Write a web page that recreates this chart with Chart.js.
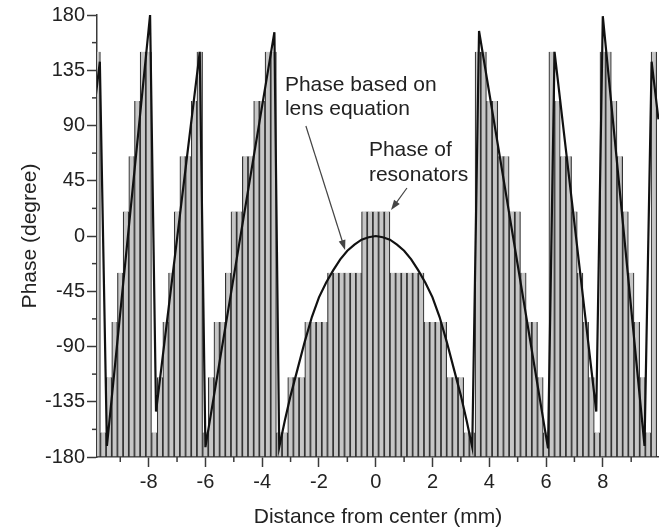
<!DOCTYPE html>
<html>
<head>
<meta charset="utf-8">
<script src="https://cdn.jsdelivr.net/npm/chart.js@4.4.0/dist/chart.umd.min.js"></script>
<style>
body { margin: 0; background: #fff; }
#phase-chart { display: block; }
</style>
</head>
<body>
<canvas id="phase-chart" width="659" height="530"></canvas>
<script>
// resonator positions (mm) and their phase (degree)
const barX = [
    -9.8, -9.6, -9.4, -9.2, -9.0, -8.8, -8.6, -8.4, -8.2, -8.0,
    -7.8, -7.6, -7.4, -7.2, -7.0, -6.8, -6.6, -6.4, -6.2, -6.0,
    -5.8, -5.6, -5.4, -5.2, -5.0, -4.8, -4.6, -4.4, -4.2, -4.0,
    -3.8, -3.6, -3.4, -3.2, -3.0, -2.8, -2.6, -2.4, -2.2, -2.0,
    -1.8, -1.6, -1.4, -1.2, -1.0, -0.8, -0.6, -0.4, -0.2, 0,
    0.2, 0.4, 0.6, 0.8, 1.0, 1.2, 1.4, 1.6, 1.8, 2.0,
    2.2, 2.4, 2.6, 2.8, 3.0, 3.2, 3.4, 3.6, 3.8, 4.0,
    4.2, 4.4, 4.6, 4.8, 5.0, 5.2, 5.4, 5.6, 5.8, 6.0,
    6.2, 6.4, 6.6, 6.8, 7.0, 7.2, 7.4, 7.6, 7.8, 8.0,
    8.2, 8.4, 8.6, 8.8, 9.0, 9.2, 9.4, 9.6, 9.8
];
const barPhase = [
    150, -160, -115, -70, -30, 20, 65, 110, 150, 150,
    -160, -115, -70, -30, 20, 65, 65, 110, 150, -160,
    -115, -70, -70, -30, 20, 20, 65, 65, 110, 110,
    150, 150, -160, -160, -115, -115, -115, -70, -70, -70,
    -70, -30, -30, -30, -30, -30, -30, 20, 20, 20,
    20, 20, -30, -30, -30, -30, -30, -30, -70, -70,
    -70, -70, -115, -115, -115, -160, -160, 150, 150, 110,
    110, 65, 65, 20, 20, -30, -70, -70, -115, -160,
    150, 110, 65, 65, 20, -30, -70, -115, -160, 150,
    150, 110, 65, 20, -30, -70, -115, -160, 150
];

// phase from the lens equation (wrapped)
const curveX = [
    -9.96, -9.72, -9.47, -7.95, -7.74, -6.2, -6.0, -3.57, -3.4, -3.2,
    -3.0, -2.75, -2.5, -2.25, -2.0, -1.75, -1.5, -1.25, -1.0, -0.75,
    -0.5, -0.25, 0, 0.25, 0.5, 0.75, 1.0, 1.25, 1.5, 1.75,
    2.0, 2.25, 2.5, 2.75, 3.0, 3.2, 3.4, 3.64, 6.07, 6.3,
    7.77, 8.0, 9.47, 9.72, 9.96
];
const curvePhase = [
    95, 142, -171, 180, -143, 150, -172, 166, -172, -150,
    -130, -108, -86, -66, -50, -38, -28, -19, -12, -7,
    -3, -1, 0, -1, -3, -7, -12, -19, -28, -38,
    -50, -66, -86, -108, -130, -150, -172, 167, -173, 150,
    -143, 179, -171, 142, 95
];

const xMinorTicks = [-9, -7, -5, -3, -1, 1, 3, 5, 7, 9];
const yMinorTicks = [-157.5, -112.5, -67.5, -22.5, 22.5, 67.5, 112.5, 157.5];

const lensNote = ["Phase based on", "lens equation"];
const lensNoteAt = [-3.2, 118.3];
const lensArrow = [-2.46, 89.6, -1.08, -11.4];
const resNote = ["Phase of", "resonators"];
const resNoteAt = [-0.24, 65.2];
const resArrow = [1.10, 39.1, 0.54, 21.2];

const axisColor = "#3a3a3a";
const textColor = "#222";
const fontFamily = "'Liberation Sans', Arial, sans-serif";

const canvas = document.getElementById("phase-chart");

function drawArrow(ctx, x0, y0, x1, y1) {
    let angle = Math.atan2(y1 - y0, x1 - x0);
    ctx.beginPath();
    ctx.moveTo(x0, y0);
    ctx.lineTo(x1 - 6 * Math.cos(angle), y1 - 6 * Math.sin(angle));
    ctx.stroke();
    ctx.beginPath();
    ctx.moveTo(x1, y1);
    ctx.lineTo(x1 - 10 * Math.cos(angle) + 3.5 * Math.sin(angle), y1 - 10 * Math.sin(angle) - 3.5 * Math.cos(angle));
    ctx.lineTo(x1 - 10 * Math.cos(angle) - 3.5 * Math.sin(angle), y1 - 10 * Math.sin(angle) + 3.5 * Math.cos(angle));
    ctx.closePath();
    ctx.fill();
}

function drawNote(ctx, xs, ys, lines, at, spacing) {
    let px = xs.getPixelForValue(at[0]);
    let py = ys.getPixelForValue(at[1]);
    lines.forEach(function(line, i) {
        ctx.fillText(line, px, py + i * spacing);
    });
}

const extrasPlugin = {
    id: "extras",
    afterDraw: function(chart) {
        let ctx = chart.ctx;
        let xs = chart.scales.x;
        let ys = chart.scales.y;
        ctx.save();
        // minor ticks
        ctx.strokeStyle = axisColor;
        ctx.lineWidth = 1.5;
        xMinorTicks.forEach(function(v) {
            let px = xs.getPixelForValue(v);
            ctx.beginPath();
            ctx.moveTo(px, ys.bottom);
            ctx.lineTo(px, ys.bottom + 5);
            ctx.stroke();
        });
        yMinorTicks.forEach(function(v) {
            let py = ys.getPixelForValue(v);
            ctx.beginPath();
            ctx.moveTo(xs.left - 5, py);
            ctx.lineTo(xs.left, py);
            ctx.stroke();
        });
        // notes
        ctx.fillStyle = textColor;
        ctx.font = "21px " + fontFamily;
        ctx.textAlign = "left";
        ctx.textBaseline = "alphabetic";
        drawNote(ctx, xs, ys, lensNote, lensNoteAt, 24.5);
        drawNote(ctx, xs, ys, resNote, resNoteAt, 25.5);
        ctx.strokeStyle = "#444";
        ctx.fillStyle = "#444";
        ctx.lineWidth = 1.2;
        drawArrow(ctx, xs.getPixelForValue(lensArrow[0]), ys.getPixelForValue(lensArrow[1]),
            xs.getPixelForValue(lensArrow[2]), ys.getPixelForValue(lensArrow[3]));
        drawArrow(ctx, xs.getPixelForValue(resArrow[0]), ys.getPixelForValue(resArrow[1]),
            xs.getPixelForValue(resArrow[2]), ys.getPixelForValue(resArrow[3]));
        ctx.restore();
    }
};

let barData = barX.map(function(x, i) {
    return { x: x, y: [-180, barPhase[i]] };
});
let curveData = curveX.map(function(x, i) {
    return { x: x, y: curvePhase[i] };
});

new Chart(canvas.getContext("2d"), {
    type: "bar",
    data: {
        datasets: [{
            type: "line",
            label: "Phase based on lens equation",
            data: curveData,
            borderColor: "#111",
            borderWidth: 2.2,
            pointRadius: 0,
            tension: 0,
            order: 0
        }, {
            type: "bar",
            label: "Phase of resonators",
            data: barData,
            backgroundColor: "#c6c6c6",
            borderColor: "#333333",
            borderWidth: 1.2,
            borderSkipped: "start",
            barPercentage: 1.0,
            categoryPercentage: 1.0,
            order: 1
        }]
    },
    options: {
        responsive: false,
        animation: false,
        devicePixelRatio: 1,
        layout: { padding: { top: 15, right: 0, left: 0, bottom: 0 } },
        plugins: {
            legend: { display: false },
            tooltip: { enabled: false }
        },
        scales: {
            x: {
                type: "linear",
                min: -9.82,
                max: 9.98,
                offset: false,
                border: { color: axisColor, width: 1.5 },
                grid: { offset: false, drawOnChartArea: false, drawTicks: true, tickLength: 10, color: axisColor, tickWidth: 1.5 },
                ticks: { stepSize: 2, includeBounds: false, color: textColor, padding: 3, maxRotation: 0, font: { size: 20, family: fontFamily } },
                title: { display: true, text: "Distance from center (mm)", color: textColor, padding: { top: 0, bottom: 0 }, font: { size: 21, family: fontFamily } },
                afterFit: function(scale) { scale.height = 73; }
            },
            y: {
                min: -180,
                max: 180,
                border: { color: axisColor, width: 1.5 },
                grid: { drawOnChartArea: false, drawTicks: true, tickLength: 10, color: axisColor, tickWidth: 1.5 },
                ticks: { stepSize: 45, color: textColor, padding: 2, font: { size: 20, family: fontFamily } },
                title: { display: true, text: "Phase (degree)", color: textColor, padding: { top: 18, bottom: 0 }, font: { size: 21, family: fontFamily } },
                afterFit: function(scale) { scale.width = 97; }
            }
        }
    },
    plugins: [extrasPlugin]
});
</script>
</body>
</html>
